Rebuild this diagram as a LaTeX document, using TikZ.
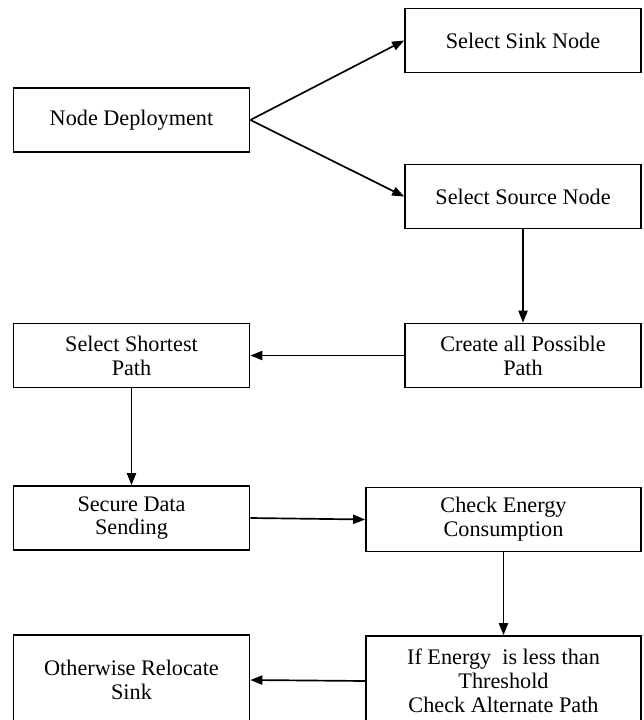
\documentclass[tikz,border=0pt]{standalone}
\usepackage{fontspec}
\setmainfont{Liberation Serif}
\usetikzlibrary{arrows.meta}

\begin{document}
\begin{tikzpicture}[x=0.025cm,y=-0.025cm,
    box/.style={draw,rectangle,line width=1.2pt,inner sep=0pt,align=center,
        minimum width=5.9cm,minimum height=1.6cm,font=\fontsize{15.8}{17}\selectfont},
    wide/.style={minimum width=6.875cm},
    tall/.style={minimum height=2.25cm},
    arr/.style={line width=1.2pt,-{Triangle[length=8.5pt,width=6.5pt]}}]
    \useasboundingbox (0,0) rectangle (643,720);
    \clip (0,0) rectangle (643,720);
    \node[box](sink)at (523,40.5){Select Sink Node};
    \node[box](deploy)at (131.5,120){Node Deployment};
    \node[box](source)at (523,196.5){Select Source Node};
    \node[box](create)at (523,355.5){Create all Possible\\Path};
    \node[box](shortest)at (131.5,355.5){Select Shortest\\Path};
    \node[box](secure)at (131.5,518){Secure Data\\Sending};
    \node[box,wide](energy)at (503.5,519.5){Check Energy\\Consumption};
    \node[box,wide,tall](threshold)at (503.5,681){If Energy\enspace is less than\\Threshold\\Check Alternate Path};
    \node[box,tall](relocate)at (131.5,680){Otherwise Relocate\\Sink};
    \draw[arr](deploy.east)--(sink.west);
    \draw[arr](deploy.east)--(source.west);
    \draw[arr](source)--(create);
    \draw[arr](create)--(shortest);
    \draw[arr](shortest)--(secure);
    \draw[arr](secure.east)--(energy.west);
    \draw[arr](energy)--(threshold);
    \draw[arr](threshold.west)--(relocate.east);
\end{tikzpicture}
\end{document}
